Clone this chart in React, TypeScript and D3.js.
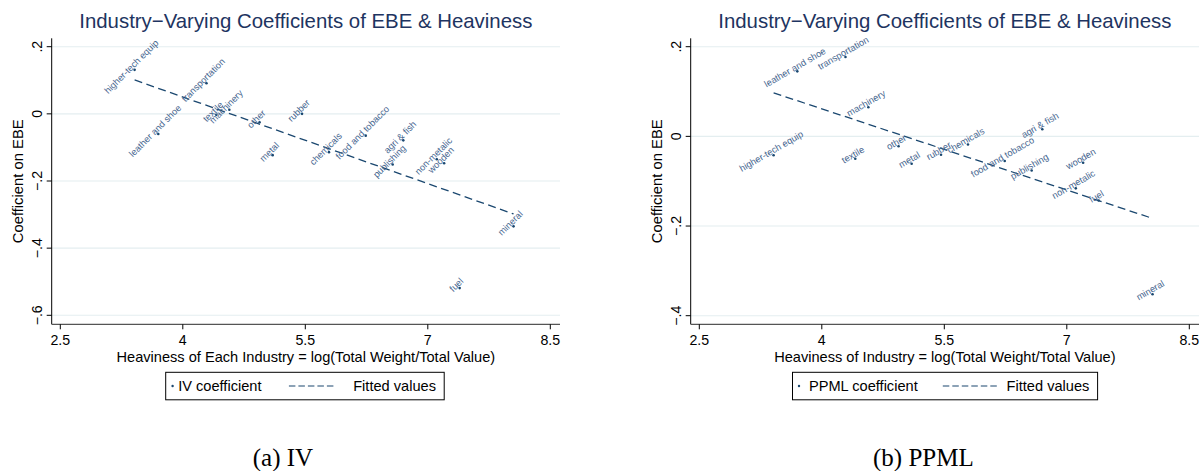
import React from "react";
import * as d3 from "d3";

const industries = [
  "higher-tech equip", "leather and shoe", "transportation", "textile", "machinery",
  "other", "metal", "rubber", "chemicals", "food and tobacco", "publishing",
  "agri & fish", "non-metalic", "wooden", "fuel", "mineral",
];
const heaviness = [3.41, 3.70, 4.29, 4.41, 4.57, 4.94, 5.10, 5.46, 5.79, 6.24, 6.57, 6.70, 7.11, 7.20, 7.39, 8.05];
const ivCoef = [0.131, -0.060, 0.091, -0.003, 0.012, -0.025, -0.123, 0.0, -0.114, -0.065, -0.151, -0.079, -0.135, -0.147, -0.519, -0.335];
const ppmlCoef = [-0.042, 0.145, 0.177, -0.050, 0.065, -0.022, -0.061, -0.041, -0.018, -0.055, -0.076, 0.016, -0.116, -0.059, -0.143, -0.352];
const fitX = [3.41, 8.05];
const ivFit = [0.101, -0.298];
const ppmlFit = [0.097, -0.183];
const xTicks = [2.5, 4, 5.5, 7, 8.5];
const ivYTicks = [0.2, 0, -0.2, -0.4, -0.6];
const ppmlYTicks = [0.2, 0, -0.2, -0.4];
const title = "Industry\u2212Varying Coefficients of EBE & Heaviness";

const NAVY = "#1a476f";
const SANS = "'Liberation Sans', Arial, Helvetica, sans-serif";

const fmtY = (v: number) => {
  if (v === 0) return "0";
  const s = Math.abs(v).toFixed(1).replace(/^0/, "");
  return (v < 0 ? "\u2212" : "") + s;
};

type PanelProps = {
  ox: number;
  yVals: number[];
  yTicks: number[];
  yDomain: [number, number];
  yRange: [number, number];
  fit: number[];
  angle: number;
  xTitle: string;
  legendLabel: string;
  legendX: [number, number];
  legendItems: { dot: number; t1: number; dash: [number, number]; t2: number };
  caption: string;
  captionX: number;
};

function Panel(p: PanelProps) {
  const left = p.ox + 51.7;
  const right = p.ox + 560;
  const top = 38.3;
  const bottom = 324.3;
  const x = d3.scaleLinear().domain([2.5, 8.5]).range([p.ox + 60.3, p.ox + 550.3]);
  const y = d3.scaleLinear().domain(p.yDomain).range(p.yRange);
  const line = d3
    .line<number>()
    .x((_, i) => x(fitX[i]))
    .y((d) => y(d));
  const cx = (left + right) / 2;
  return (
    <g>
      {p.yTicks.map((t) => (
        <line key={"g" + t} x1={left} x2={right} y1={y(t)} y2={y(t)} stroke="#e4eef0" strokeWidth={1.1} />
      ))}
      <text x={cx} y={28.3} textAnchor="middle" fontFamily={SANS} fontSize={20.4} fill="#1e3461">
        {title}
      </text>
      <line x1={left} x2={left} y1={top} y2={bottom} stroke="#000" strokeWidth={1} />
      {p.yTicks.map((t) => (
        <g key={"yt" + t}>
          <line x1={left - 5} x2={left} y1={y(t)} y2={y(t)} stroke="#000" strokeWidth={1} />
          <text
            transform={`translate(${left - 9.8},${y(t)}) rotate(-90)`}
            textAnchor="middle"
            fontFamily={SANS}
            fontSize={14.2}
            fill="#000"
          >
            {fmtY(t)}
          </text>
        </g>
      ))}
      <text
        transform={`translate(${p.ox + 23},${(top + bottom) / 2}) rotate(-90)`}
        textAnchor="middle"
        fontFamily={SANS}
        fontSize={14.8}
        fill="#000"
      >
        Coefficient on EBE
      </text>
      <line x1={left} x2={right} y1={bottom} y2={bottom} stroke="#555" strokeWidth={1.3} />
      {xTicks.map((t) => (
        <g key={"xt" + t}>
          <line x1={x(t)} x2={x(t)} y1={bottom} y2={bottom + 5} stroke="#000" strokeWidth={1} />
          <text x={x(t)} y={345} textAnchor="middle" fontFamily={SANS} fontSize={14.2} fill="#000">
            {t}
          </text>
        </g>
      ))}
      <text x={cx} y={361.5} textAnchor="middle" fontFamily={SANS} fontSize={14.6} fill="#000">
        {p.xTitle}
      </text>
      <path d={line(p.fit) || ""} fill="none" stroke={NAVY} strokeWidth={1.3} strokeDasharray="8,4.5" />
      {p.yVals.map((v, i) => (
        <g key={"p" + i}>
          <circle cx={x(heaviness[i])} cy={y(v)} r={1.3} fill={NAVY} />
          <text
            transform={`translate(${x(heaviness[i])},${y(v)}) rotate(${-p.angle})`}
            dy="-0.15em"
            textAnchor="middle"
            fontFamily={SANS}
            fontSize={9.3}
            fill="#46668f"
          >
            {industries[i]}
          </text>
        </g>
      ))}
      <rect
        x={p.legendX[0]}
        y={372.3}
        width={p.legendX[1] - p.legendX[0]}
        height={27.5}
        fill="#fff"
        stroke="#000"
        strokeWidth={1}
      />
      <circle cx={p.legendItems.dot} cy={386} r={1.2} fill={NAVY} />
      <text x={p.legendItems.t1} y={391.2} fontFamily={SANS} fontSize={14.6} fill="#000">
        {p.legendLabel}
      </text>
      <line
        x1={p.legendItems.dash[0]}
        x2={p.legendItems.dash[1]}
        y1={386}
        y2={386}
        stroke={NAVY}
        strokeWidth={1.2}
        strokeDasharray="6.5,3"
      />
      <text x={p.legendItems.t2} y={391.2} fontFamily={SANS} fontSize={14.6} fill="#000">
        Fitted values
      </text>
      <text
        x={p.captionX}
        y={466}
        textAnchor="middle"
        fontFamily="'Liberation Serif', 'Times New Roman', serif"
        fontSize={25}
        fill="#000"
      >
        {p.caption}
      </text>
    </g>
  );
}

export default function App() {
  return (
    <svg
      width={1201}
      height={471}
      viewBox="0 0 1201 471"
      style={{ position: "absolute", left: 0, top: 0, background: "#fff", display: "block" }}
    >
      <rect x={0} y={0} width={1201} height={471} fill="#fff" />
      <Panel
        ox={0}
        yVals={ivCoef}
        yTicks={ivYTicks}
        yDomain={[0.2, -0.6]}
        yRange={[46.7, 315.3]}
        fit={ivFit}
        angle={45}
        xTitle="Heaviness of Each Industry = log(Total Weight/Total Value)"
        legendLabel="IV coefficient"
        legendX={[165.7, 444.2]}
        legendItems={{ dot: 172.6, t1: 178.2, dash: [288.9, 334.8], t2: 353.2 }}
        caption="(a) IV"
        captionX={283}
      />
      <Panel
        ox={639}
        yVals={ppmlCoef}
        yTicks={ppmlYTicks}
        yDomain={[0.2, -0.4]}
        yRange={[46.7, 315.7]}
        fit={ppmlFit}
        angle={30}
        xTitle="Heaviness of Industry = log(Total Weight/Total Value)"
        legendLabel="PPML coefficient"
        legendX={[792.5, 1097.6]}
        legendItems={{ dot: 799, t1: 809, dash: [942.8, 997.8], t2: 1006.6 }}
        caption="(b) PPML"
        captionX={923.4}
      />
    </svg>
  );
}
